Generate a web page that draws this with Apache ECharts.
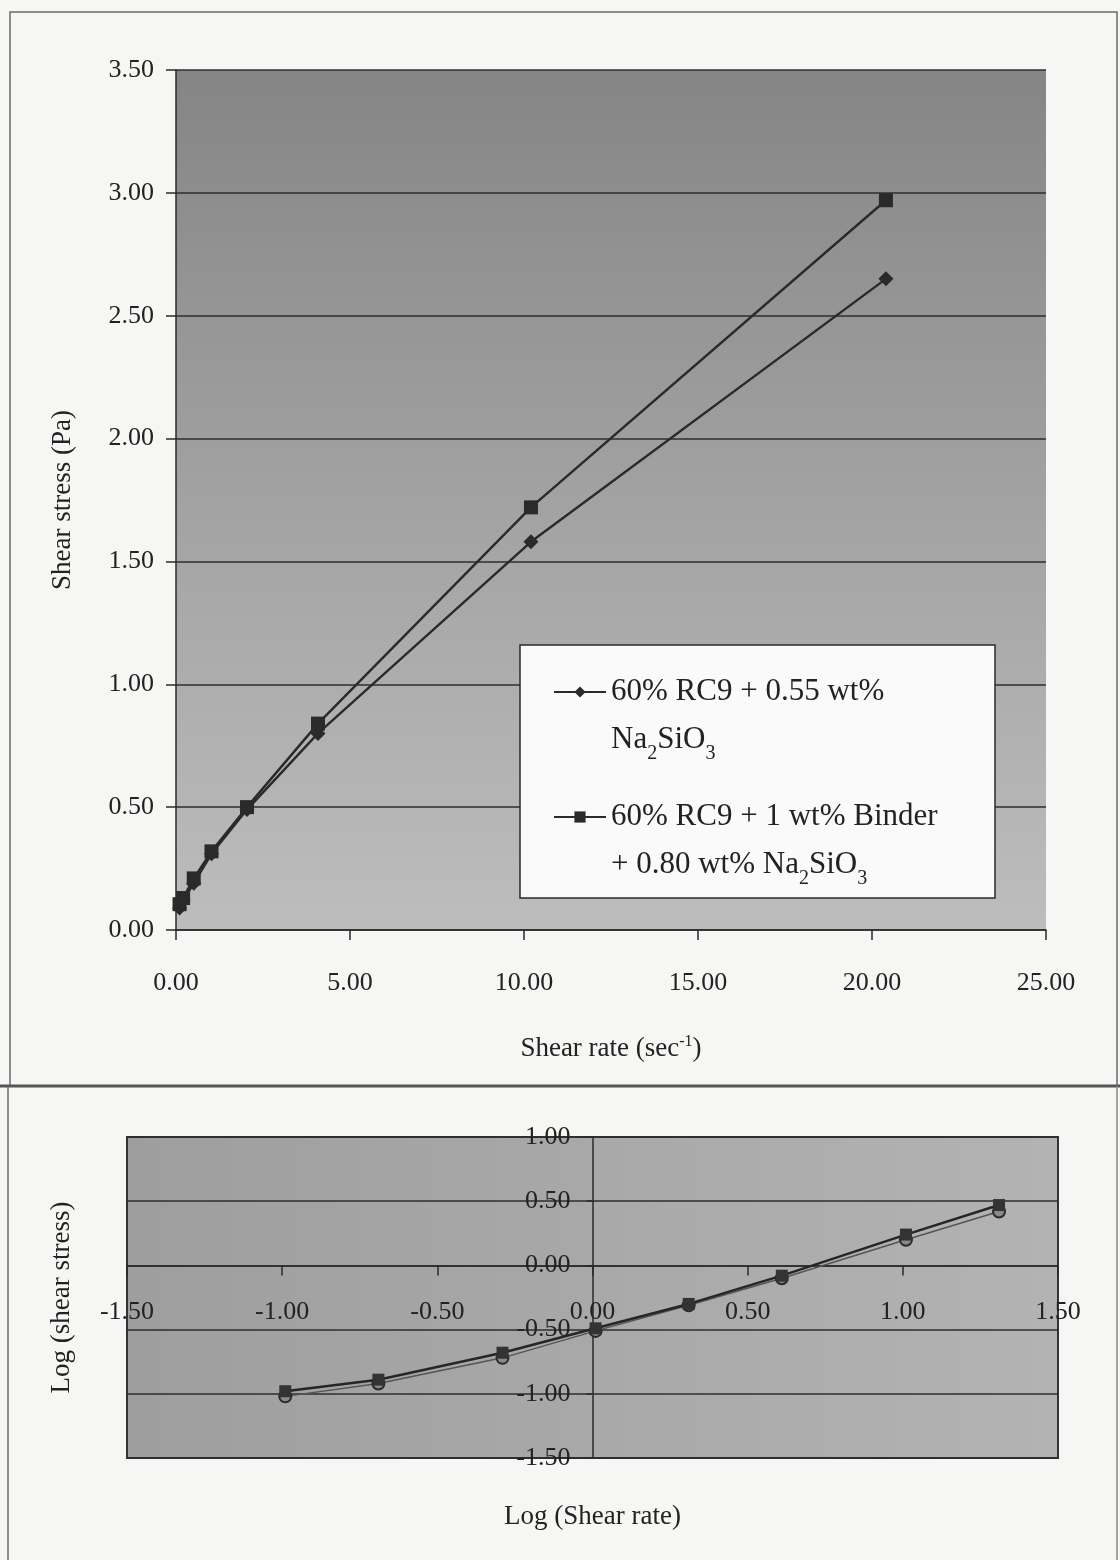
<!DOCTYPE html>
<html>
<head>
<meta charset="utf-8">
<script src="https://cdn.jsdelivr.net/npm/echarts@6/dist/echarts.min.js"></script>
<style>
  html, body { margin: 0; padding: 0; background: #f6f6f4; }
  #chart { width: 1120px; height: 1560px; }
</style>
</head>
<body>
<div id="chart"></div>
<script>
// Shear rate (sec^-1) and shear stress (Pa) for the two slurries
const shearRate = [0.102, 0.204, 0.51, 1.02, 2.04, 4.08, 10.2, 20.4];
const stressNa = [0.09, 0.12, 0.19, 0.31, 0.49, 0.80, 1.58, 2.65];
const stressBinder = [0.105, 0.13, 0.21, 0.32, 0.50, 0.84, 1.72, 2.97];

// Same measurements on log-log axes
const logRate = [-0.99, -0.69, -0.29, 0.01, 0.31, 0.61, 1.01, 1.31];
const logStressNa = [-1.02, -0.92, -0.72, -0.51, -0.31, -0.10, 0.20, 0.42];
const logStressBinder = [-0.98, -0.89, -0.68, -0.49, -0.30, -0.08, 0.24, 0.47];

const seriesNames = ['60% RC9 + 0.55 wt%', '60% RC9 + 1 wt% Binder'];
const legendLabels = {
  '60% RC9 + 0.55 wt%': '60% RC9 + 0.55 wt%\nNa{sub|2}SiO{sub|3}',
  '60% RC9 + 1 wt% Binder': '60% RC9 + 1 wt% Binder\n+ 0.80 wt% Na{sub|2}SiO{sub|3}'
};

const FONT = '"Liberation Serif", "Times New Roman", serif';
const INK = '#222';

const pairs = (xs, ys) => xs.map((x, i) => [x, ys[i]]);
const fmt2 = v => v.toFixed(2);

const axisText = { fontFamily: FONT, fontSize: 26, color: INK };

// log panel geometry: the axes cross at (0, 0) inside the plot
const LOG_GRID = { left: 127, top: 1137, width: 931, height: 321 };
const LOG_X = [-1.5, 1.5];
const LOG_Y = [-1.5, 1];
const zeroFromBottom = LOG_GRID.height * (0 - LOG_Y[0]) / (LOG_Y[1] - LOG_Y[0]);
const zeroFromLeft = LOG_GRID.width * (0 - LOG_X[0]) / (LOG_X[1] - LOG_X[0]);

const chart = echarts.init(document.getElementById('chart'), null, { renderer: 'canvas' });

chart.setOption({
  backgroundColor: '#f6f6f4',
  animation: false,
  grid: [
    {
      left: 176, top: 70, width: 870, height: 860,
      outerBoundsMode: 'none', containLabel: false,
      show: true, borderWidth: 0,
      backgroundColor: new echarts.graphic.LinearGradient(0, 0, 0, 1, [
        { offset: 0, color: '#858585' },
        { offset: 0.5, color: '#a2a2a2' },
        { offset: 1, color: '#bdbdbd' }
      ])
    },
    Object.assign({
      outerBoundsMode: 'none', containLabel: false,
      show: true, borderWidth: 2, borderColor: '#333',
      backgroundColor: new echarts.graphic.LinearGradient(0, 0, 1, 0, [
        { offset: 0, color: '#9e9e9e' },
        { offset: 1, color: '#b3b3b3' }
      ])
    }, LOG_GRID)
  ],
  xAxis: [
    {
      gridIndex: 0, type: 'value', min: 0, max: 25, interval: 5,
      name: 'Shear rate (sec{sup|-1})', nameLocation: 'middle', nameGap: 104,
      nameTextStyle: {
        fontFamily: FONT, fontSize: 27, color: INK, lineHeight: 30,
        rich: { sup: { fontFamily: FONT, fontSize: 16, color: INK, verticalAlign: 'top', lineHeight: 18 } }
      },
      axisLine: { lineStyle: { color: '#2a2a2a', width: 1.5 } },
      axisTick: { show: true, length: 10, lineStyle: { color: '#2a2a2a', width: 1.5 } },
      axisLabel: Object.assign({ margin: 40, formatter: fmt2 }, axisText),
      splitLine: { show: false }
    },
    {
      gridIndex: 1, type: 'value', min: LOG_X[0], max: LOG_X[1], interval: 0.5,
      position: 'bottom', offset: -zeroFromBottom,
      name: 'Log (Shear rate)', nameLocation: 'middle', nameGap: 238,
      nameTextStyle: { fontFamily: FONT, fontSize: 27, color: INK },
      axisLine: { onZero: false, lineStyle: { color: '#2a2a2a', width: 1.5 } },
      axisTick: { show: true, length: 10, lineStyle: { color: '#2a2a2a', width: 1.5 } },
      axisLabel: Object.assign({ margin: 34, formatter: fmt2, showMinLabel: true, showMaxLabel: true }, axisText),
      splitLine: { show: false }
    }
  ],
  yAxis: [
    {
      gridIndex: 0, type: 'value', min: 0, max: 3.5, interval: 0.5,
      name: 'Shear stress (Pa)', nameLocation: 'middle', nameGap: 100,
      nameTextStyle: { fontFamily: FONT, fontSize: 27, color: INK },
      axisLine: { show: true, lineStyle: { color: '#2a2a2a', width: 1.5 } },
      axisTick: { show: true, length: 10, lineStyle: { color: '#2a2a2a', width: 1.5 } },
      axisLabel: Object.assign({ margin: 22, formatter: fmt2 }, axisText),
      splitLine: { show: true, lineStyle: { color: '#2e2e2e', width: 1.5 } }
    },
    {
      gridIndex: 1, type: 'value', min: LOG_Y[0], max: LOG_Y[1], interval: 0.5,
      position: 'left', offset: -zeroFromLeft,
      name: 'Log (shear stress)', nameLocation: 'middle', nameGap: 517,
      nameTextStyle: { fontFamily: FONT, fontSize: 27, color: INK },
      axisLine: { show: true, onZero: false, lineStyle: { color: '#2a2a2a', width: 1.5 } },
      axisTick: { show: true, length: 6, lineStyle: { color: '#2a2a2a', width: 1.5 } },
      axisLabel: Object.assign({ margin: 22, formatter: fmt2, showMinLabel: true, showMaxLabel: true }, axisText),
      splitLine: { show: true, lineStyle: { color: '#2e2e2e', width: 1.5 } }
    }
  ],
  legend: {
    data: seriesNames,
    orient: 'vertical',
    left: 553, top: 620,
    padding: 0,
    itemGap: -19,
    itemWidth: 52, itemHeight: 14,
    selectedMode: false,
    z: 6,
    formatter: name => legendLabels[name],
    textStyle: {
      fontFamily: FONT, fontSize: 31, color: INK, lineHeight: 48,
      padding: [48, 0, 0, 0],
      rich: { sub: { fontFamily: FONT, fontSize: 20, color: INK, verticalAlign: 'bottom', lineHeight: 30 } }
    }
  },
  graphic: [
    // page frames around the two panels
    { type: 'rect', z: 0, silent: true,
      shape: { x: 10, y: 12, width: 1107, height: 1074 },
      style: { fill: null, stroke: '#6a6a6a', lineWidth: 1.5 } },
    { type: 'line', z: 0, silent: true,
      shape: { x1: 0, y1: 1086, x2: 1120, y2: 1086 },
      style: { stroke: '#555', lineWidth: 3 } },
    { type: 'line', z: 0, silent: true,
      shape: { x1: 8, y1: 1086, x2: 8, y2: 1560 },
      style: { stroke: '#6a6a6a', lineWidth: 1.5 } },
    { type: 'line', z: 0, silent: true,
      shape: { x1: 1117, y1: 1086, x2: 1117, y2: 1560 },
      style: { stroke: '#8a8a8a', lineWidth: 1.5 } },
    // legend box
    { type: 'rect', z: 5, silent: true,
      shape: { x: 520, y: 645, width: 475, height: 253 },
      style: { fill: '#fafafa', stroke: '#2a2a2a', lineWidth: 1.5 } }
  ],
  series: [
    {
      name: seriesNames[0], type: 'line', xAxisIndex: 0, yAxisIndex: 0,
      data: pairs(shearRate, stressNa),
      symbol: 'diamond', symbolSize: 15,
      itemStyle: { color: '#2a2a2a' },
      lineStyle: { color: '#2a2a2a', width: 2.4 },
      z: 3
    },
    {
      name: seriesNames[1], type: 'line', xAxisIndex: 0, yAxisIndex: 0,
      data: pairs(shearRate, stressBinder),
      symbol: 'rect', symbolSize: 14,
      itemStyle: { color: '#2a2a2a' },
      lineStyle: { color: '#2a2a2a', width: 2.4 },
      z: 3
    },
    {
      name: seriesNames[0], type: 'line', xAxisIndex: 1, yAxisIndex: 1,
      data: pairs(logRate, logStressNa),
      symbol: 'circle', symbolSize: 12,
      itemStyle: { color: '#8a8a8a', borderColor: '#2a2a2a', borderWidth: 2 },
      lineStyle: { color: '#555', width: 1.5 },
      z: 3
    },
    {
      name: seriesNames[1], type: 'line', xAxisIndex: 1, yAxisIndex: 1,
      data: pairs(logRate, logStressBinder),
      symbol: 'rect', symbolSize: 12,
      itemStyle: { color: '#333' },
      lineStyle: { color: '#262626', width: 2.5 },
      z: 4
    }
  ]
});
</script>
</body>
</html>
